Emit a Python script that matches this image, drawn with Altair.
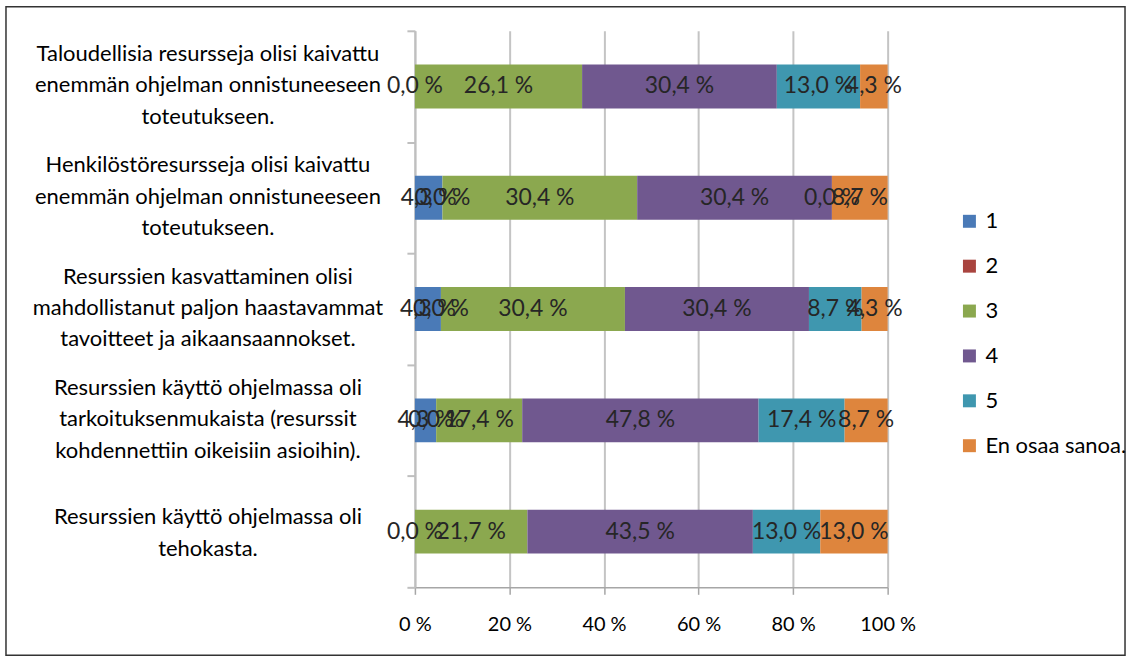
import altair as alt
import pandas as pd

# Survey statements (line breaks marked with "|")
questions = [
    "Taloudellisia resursseja olisi kaivattu|enemmän ohjelman onnistuneeseen|toteutukseen.",
    "Henkilöstöresursseja olisi kaivattu|enemmän ohjelman onnistuneeseen|toteutukseen.",
    "Resurssien kasvattaminen olisi|mahdollistanut paljon haastavammat|tavoitteet ja aikaansaannokset.",
    "Resurssien käyttö ohjelmassa oli|tarkoituksenmukaista (resurssit|kohdennettiin oikeisiin asioihin).",
    "Resurssien käyttö ohjelmassa oli|tehokasta.",
]

# Answer shares (%) per response option, one value per statement
series_names = ["1", "2", "3", "4", "5", "En osaa sanoa."]
s1 = [0.0, 4.3, 4.3, 4.3, 0.0]
s2 = [None, 0.0, 0.0, 0.0, None]
s3 = [26.1, 30.4, 30.4, 17.4, 21.7]
s4 = [30.4, 30.4, 30.4, 47.8, 43.5]
s5 = [13.0, 0.0, 8.7, 17.4, 13.0]
s_en = [4.3, 8.7, 4.3, 8.7, 13.0]
series_values = [s1, s2, s3, s4, s5, s_en]

colors = ["#4A7AB7", "#A9443F", "#8BA84F", "#70588F", "#3F97AF", "#DE853D"]
x_ticks = [0, 0.2, 0.4, 0.6, 0.8, 1.0]

rows = []
for qi, q in enumerate(questions):
    for si, (name, vals) in enumerate(zip(series_names, series_values)):
        v = vals[qi]
        if v is None:
            continue
        rows.append(
            {
                "question": q,
                "series": name,
                "order": si,
                "value": v,
                "label": f"{v:.1f} %".replace(".", ","),
            }
        )
df = pd.DataFrame(rows)

FONT = "Lato"

base = alt.Chart(df).transform_stack(
    stack="value",
    groupby=["question"],
    sort=[alt.SortField("order", order="ascending")],
    as_=["x0", "x1"],
    offset="normalize",
).transform_calculate(xm="(datum.x0 + datum.x1) / 2")

y_enc = alt.Y(
    "question:N",
    sort=questions,
    title=None,
    scale=alt.Scale(paddingInner=0, paddingOuter=0),
    axis=alt.Axis(
        labelExpr="split(datum.label, '|')",
        labelAlign="center",
        labelBaseline="middle",
        labelPadding=200,
        # shift the multi-line block so that it is centred on its band
        labelOffset={
            "condition": {
                "test": "length(split(datum.value, '|')) == 2",
                "value": -15,
            },
            "value": -33,
        },
        labelFont=FONT,
        labelFontSize=22,
        labelColor="#000000",
        labelLineHeight=31.5,
        labelLimit=0,
        tickBand="extent",
        tickSize=8,
        tickColor="#BFBFBF",
        tickWidth=2,
        domainColor="#BFBFBF",
        domainWidth=2,
        grid=False,
    ),
)

x_scale = alt.Scale(domain=[0, 1], nice=False)

bars = base.mark_bar(size=44).encode(
    x=alt.X(
        "x0:Q",
        scale=x_scale,
        title=None,
        axis=alt.Axis(
            values=x_ticks,
            labelExpr="format(datum.value * 100, 'd') + ' %'",
            labelFlush=False,
            labelFont=FONT,
            labelFontSize=20,
            labelColor="#000000",
            labelPadding=20,
            tickSize=7,
            tickColor="#A6A6A6",
            tickWidth=1.5,
            domainColor="#A6A6A6",
            domainWidth=1.5,
            grid=True,
            gridColor="#C4C4C4",
            gridWidth=2,
        ),
    ),
    x2="x1:Q",
    y=y_enc,
    color=alt.Color(
        "series:N",
        scale=alt.Scale(domain=series_names, range=colors),
        legend=alt.Legend(
            title=None,
            orient="none",
            legendX=545,
            legendY=180,
            symbolType="square",
            symbolSize=169,
            symbolStrokeWidth=0,
            labelFont=FONT,
            labelFontSize=22,
            labelColor="#000000",
            labelOffset=5,
            rowPadding=23,
            padding=0,
        ),
    ),
)

labels = base.mark_text(
    font=FONT, fontSize=23, color="#262626", align="center", baseline="middle"
).encode(
    x=alt.X("xm:Q", scale=x_scale),
    y=alt.Y("question:N", sort=questions),
    text="label:N",
)

# Outer frame around the whole figure
frame = alt.Chart(pd.DataFrame({"f": [0]})).mark_rect(
    filled=False, stroke="#333333", strokeWidth=1.5
).encode(
    x=alt.value(-410),
    x2=alt.value(712),
    y=alt.value(-24),
    y2=alt.value(626),
)

chart = (
    alt.layer(frame, bars, labels)
    .properties(width=474, height=558, padding=5, background="#FFFFFF")
    .configure_view(stroke=None)
)

chart.save("out.html", embed_options={"renderer": "svg", "actions": False})
